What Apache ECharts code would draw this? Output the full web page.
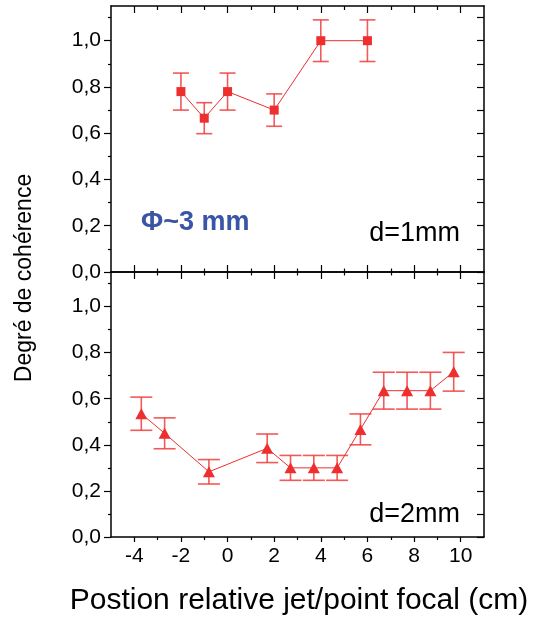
<!DOCTYPE html>
<html>
<head>
<meta charset="utf-8">
<script src="https://cdn.jsdelivr.net/npm/echarts@6/dist/echarts.min.js"></script>
<style>html,body{margin:0;padding:0;background:#fff;}#c{width:536px;height:621px;}</style>
</head>
<body>
<div id="c"></div>
<script>
// ---- data ----
var xTop = [-2, -1, 0, 2, 4, 6];
var yTop = [0.78, 0.665, 0.78, 0.70, 1.0, 1.0];
var eTop = [0.08, 0.067, 0.08, 0.07, 0.09, 0.09];

var xBot = [-3.7, -2.7, -0.8, 1.7, 2.7, 3.7, 4.7, 5.7, 6.7, 7.7, 8.7, 9.7];
var yBot = [0.535, 0.45, 0.283, 0.385, 0.30, 0.30, 0.30, 0.467, 0.635, 0.635, 0.635, 0.717];
var eBot = [0.072, 0.067, 0.053, 0.062, 0.054, 0.054, 0.054, 0.067, 0.08, 0.08, 0.08, 0.084];

var xMajor = [-4, -2, 0, 2, 4, 6, 8, 10];
var xMinor = [-3, -1, 1, 3, 5, 7, 9];
var yMajor = [0, 0.2, 0.4, 0.6, 0.8, 1.0];
var yMinor = [0.1, 0.3, 0.5, 0.7, 0.9, 1.1];
var yAll = [0, 0.1, 0.2, 0.3, 0.4, 0.5, 0.6, 0.7, 0.8, 0.9, 1.0, 1.1];

var labelTop = 'Φ~3 mm';
var labelD1 = 'd=1mm';
var labelD2 = 'd=2mm';
var yTitle = 'Degré de cohérence';
var xTitle = 'Postion relative jet/point focal (cm)';

// ---- build ----
var FONT = "'Liberation Sans', Arial, sans-serif";
var RED = '#ee2f2f';
var chart = echarts.init(document.getElementById('c'), null, {renderer: 'canvas'});

function pts(xs, ys) { return xs.map(function (x, i) { return [x, ys[i]]; }); }
function errs(xs, ys, es) { return xs.map(function (x, i) { return [x, ys[i], es[i]]; }); }

var lineStyleAxis = {color: '#000', width: 1.5};

function xAx(grid, pos, ticks, inside, len, showLine, labels) {
  return {
    type: 'value', gridIndex: grid, position: pos, min: -5, max: 11,
    axisLine: {show: showLine, onZero: false, lineStyle: lineStyleAxis},
    axisTick: {show: true, customValues: ticks, inside: inside, length: len, lineStyle: {color: '#000', width: 1.2}},
    axisLabel: labels ? {show: true, customValues: labels, margin: 9, color: '#000', fontSize: 21, fontFamily: FONT,
      formatter: function (v) { return String(v); }} : {show: false},
    splitLine: {show: false}
  };
}
function yAx(grid, pos, ticks, inside, len, showLine, labels) {
  return {
    type: 'value', gridIndex: grid, position: pos, min: 0, max: 1.15,
    axisLine: {show: showLine, onZero: false, lineStyle: lineStyleAxis},
    axisTick: {show: true, customValues: ticks, inside: inside, length: len, lineStyle: {color: '#000', width: 1.2}},
    axisLabel: labels ? {show: true, customValues: labels, margin: 10, color: '#000', fontSize: 21, fontFamily: FONT,
      formatter: function (v) { return v.toFixed(1).replace('.', ','); }} : {show: false},
    splitLine: {show: false}
  };
}

function errRender(half) {
  return function (params, api) {
    var x = api.value(0), y = api.value(1), e = api.value(2);
    var t = api.coord([x, y + e]);
    var b = api.coord([x, y - e]);
    var st = {stroke: '#f03c3c', lineWidth: 1.6, opacity: 0.85};
    return {
      type: 'group',
      children: [
        {type: 'line', shape: {x1: t[0], y1: t[1], x2: b[0], y2: b[1]}, style: st},
        {type: 'line', shape: {x1: t[0] - half, y1: t[1], x2: t[0] + half, y2: t[1]}, style: st},
        {type: 'line', shape: {x1: b[0] - half, y1: b[1], x2: b[0] + half, y2: b[1]}, style: st}
      ]
    };
  };
}

var option = {
  animation: false,
  backgroundColor: '#fff',
  grid: [
    {left: 111, right: 52, top: 6, height: 266, containLabel: false},
    {left: 111, right: 52, top: 272, height: 265, containLabel: false}
  ],
  xAxis: [
    xAx(0, 'bottom', xMajor, true, 7, true, null),
    xAx(0, 'bottom', xMinor, true, 3.5, false, null),
    xAx(0, 'top', xMajor, true, 7, true, null),
    xAx(0, 'top', xMinor, true, 4, false, null),
    xAx(1, 'top', xMajor, true, 7, true, null),
    xAx(1, 'top', xMinor, true, 3.5, false, null),
    xAx(1, 'bottom', xMajor, false, 5, true, xMajor),
    xAx(1, 'bottom', xMinor, false, 3, false, null)
  ],
  yAxis: [
    yAx(0, 'left', yMajor, false, 7, true, yMajor),
    yAx(0, 'left', yMinor, false, 3, false, null),
    yAx(0, 'right', yAll, true, 7, true, null),
    yAx(1, 'left', yMajor, false, 7, true, yMajor),
    yAx(1, 'left', yMinor, false, 3, false, null),
    yAx(1, 'right', yAll, true, 7, true, null)
  ],
  series: [
    {type: 'custom', xAxisIndex: 0, yAxisIndex: 0, data: errs(xTop, yTop, eTop), renderItem: errRender(8), z: 2, silent: true},
    {type: 'line', xAxisIndex: 0, yAxisIndex: 0, data: pts(xTop, yTop), symbol: 'rect', symbolSize: 9,
      itemStyle: {color: RED}, lineStyle: {color: RED, width: 1}, z: 3},
    {type: 'custom', xAxisIndex: 6, yAxisIndex: 3, data: errs(xBot, yBot, eBot), renderItem: errRender(11), z: 2, silent: true},
    {type: 'line', xAxisIndex: 6, yAxisIndex: 3, data: pts(xBot, yBot), symbol: 'triangle', symbolSize: [12, 11],
      itemStyle: {color: RED}, lineStyle: {color: RED, width: 1}, z: 3}
  ],
  graphic: [
    {type: 'text', left: 141, top: 209, style: {text: labelTop, fill: '#3a55a6', font: 'bold 27px ' + FONT}},
    {type: 'text', right: 76, top: 220, style: {text: labelD1, fill: '#000', font: '27px ' + FONT}},
    {type: 'text', right: 76, top: 501, style: {text: labelD2, fill: '#000', font: '27px ' + FONT}},
    {type: 'text', x: 25, y: 278, rotation: Math.PI / 2,
      style: {text: yTitle, fill: '#000', font: '23px ' + FONT, align: 'center', verticalAlign: 'middle'}},
    {type: 'text', x: 299, y: 601,
      style: {text: xTitle, fill: '#000', font: '30px ' + FONT, align: 'center', verticalAlign: 'middle'}}
  ]
};
chart.setOption(option);
</script>
</body>
</html>
